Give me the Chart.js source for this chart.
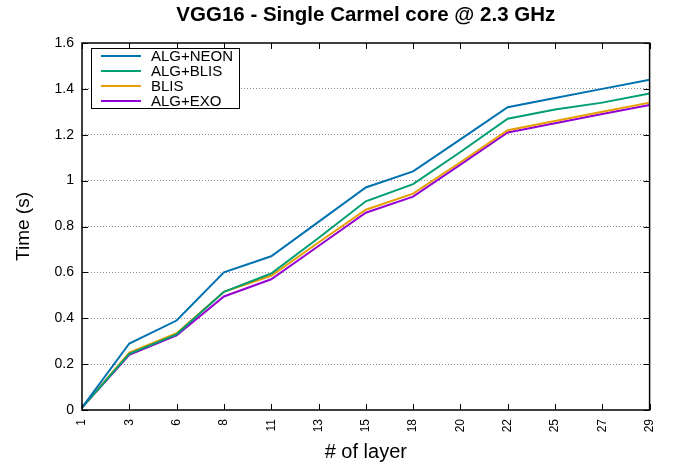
<!DOCTYPE html>
<html>
<head>
<meta charset="utf-8">
<script src="https://cdn.jsdelivr.net/npm/chart.js@4/dist/chart.umd.min.js"></script>
<style>
  html, body { margin: 0; padding: 0; background: #fff; }
  #wrap { width: 673px; height: 466px; }
</style>
</head>
<body>
<div id="wrap"><canvas id="chart" width="673" height="466"></canvas></div>
<script>
const layers = ['1', '3', '6', '8', '11', '13', '15', '18', '20', '22', '25', '27', '29'];
const algNeon = [0.01, 0.29, 0.39, 0.60, 0.67, 0.82, 0.97, 1.04, 1.18, 1.32, 1.36, 1.40, 1.44];
const algBlis = [0.01, 0.245, 0.33, 0.515, 0.595, 0.75, 0.91, 0.985, 1.125, 1.27, 1.31, 1.34, 1.38];
const blis    = [0.01, 0.25, 0.335, 0.515, 0.585, 0.73, 0.873, 0.943, 1.08, 1.22, 1.26, 1.30, 1.34];
const algExo  = [0.01, 0.24, 0.325, 0.495, 0.57, 0.715, 0.86, 0.93, 1.07, 1.21, 1.25, 1.29, 1.33];
const yTicks = [0, 0.2, 0.4, 0.6, 0.8, 1, 1.2, 1.4, 1.6];
const chartTitle = 'VGG16 - Single Carmel core @ 2.3 GHz';

const font = 'Liberation Sans, Arial, Helvetica, sans-serif';

// box, inner ticks, legend and title drawn like gnuplot does
const framePlugin = {
    id: 'frame',
    afterDatasetsDraw(chart) {
        const ctx = chart.ctx;
        const a = chart.chartArea;
        const xs = chart.scales.x;
        const ys = chart.scales.y;
        const t = 6;
        ctx.save();
        ctx.strokeStyle = '#000';
        ctx.lineWidth = 1;
        ctx.beginPath();
        xs.ticks.forEach((tk, i) => {
            const x = Math.round(xs.getPixelForTick(i)) + 0.5;
            ctx.moveTo(x, a.bottom); ctx.lineTo(x, a.bottom - t);
            ctx.moveTo(x, a.top); ctx.lineTo(x, a.top + t);
        });
        ys.ticks.forEach(tk => {
            const y = Math.round(ys.getPixelForValue(tk.value)) + 0.5;
            ctx.moveTo(a.left, y); ctx.lineTo(a.left + t, y);
            ctx.moveTo(a.right, y); ctx.lineTo(a.right - t, y);
        });
        ctx.stroke();
        ctx.lineWidth = 1.5;
        ctx.strokeRect(a.left, a.top, a.right - a.left, a.bottom - a.top);

        // legend
        const lx = a.left + 9, ly = a.top + 5, lw = 148, lh = 60;
        ctx.fillStyle = '#fff';
        ctx.fillRect(lx, ly, lw, lh);
        ctx.lineWidth = 1;
        ctx.strokeRect(lx + 0.5, ly + 0.5, lw, lh);
        ctx.font = '15px ' + font;
        ctx.textBaseline = 'middle';
        chart.data.datasets.forEach((ds, i) => {
            const y = ly + 8 + i * 15;
            ctx.strokeStyle = ds.borderColor;
            ctx.lineWidth = 2;
            ctx.beginPath();
            ctx.moveTo(lx + 10, y); ctx.lineTo(lx + 50, y);
            ctx.stroke();
            ctx.fillStyle = '#000';
            ctx.fillText(ds.label, lx + 60, y + 1);
        });

        // title centred over the plot
        ctx.font = 'bold 20.5px ' + font;
        ctx.textAlign = 'center';
        ctx.fillStyle = '#000';
        ctx.fillText(chartTitle, (a.left + a.right) / 2, 15);
        ctx.restore();
    }
};

const mk = (label, data, color) => ({
    label, data,
    borderColor: color,
    backgroundColor: color,
    borderWidth: 2,
    pointRadius: 0,
    tension: 0,
    fill: false
});

new Chart(document.getElementById('chart'), {
    type: 'line',
    data: {
        labels: layers,
        datasets: [
            mk('ALG+NEON', algNeon, '#0072b2'),
            mk('ALG+BLIS', algBlis, '#009e73'),
            mk('BLIS', blis, '#e69f00'),
            mk('ALG+EXO', algExo, '#9400d3')
        ]
    },
    options: {
        responsive: false,
        animation: false,
        layout: { padding: { left: 0, right: 21, top: 43, bottom: 0 } },
        plugins: {
            legend: { display: false },
            tooltip: { enabled: false },
            title: { display: false }
        },
        scales: {
            x: {
                type: 'category',
                offset: false,
                grid: { display: false, drawTicks: false },
                border: { display: false },
                ticks: {
                    color: '#000',
                    font: { family: font, size: 12 },
                    maxRotation: 90, minRotation: 90,
                    padding: 9,
                    autoSkip: false
                },
                title: {
                    display: true,
                    text: '# of layer',
                    color: '#000',
                    font: { family: font, size: 20 },
                    padding: { top: 0, bottom: 2 }
                },
                afterFit(s) { s.height = 56; }
            },
            y: {
                min: 0, max: 1.6,
                afterBuildTicks(s) { s.ticks = yTicks.map(v => ({ value: v })); },
                grid: {
                    drawTicks: false,
                    color: c => (c.tick.value === 0 || c.tick.value === 1.6) ? 'rgba(0,0,0,0)' : '#888',
                    lineWidth: 1
                },
                border: { display: false, dash: [1, 2] },
                ticks: {
                    color: '#000',
                    font: { family: font, size: 14 },
                    padding: 8,
                    callback: v => String(Math.round(v * 10) / 10)
                },
                title: {
                    display: true,
                    text: 'Time (s)',
                    color: '#000',
                    font: { family: font, size: 19 },
                    padding: { top: 12, bottom: 0 }
                },
                afterFit(s) { s.width = 82; }
            }
        }
    },
    plugins: [framePlugin]
});
</script>
</body>
</html>
